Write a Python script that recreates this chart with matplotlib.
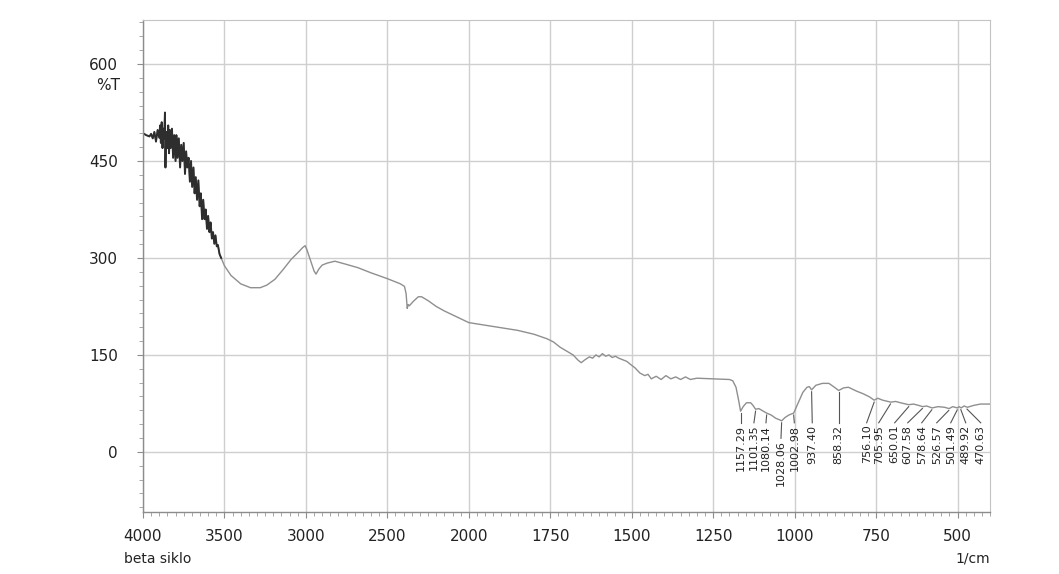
import numpy as np
import matplotlib
matplotlib.use('Agg')
import matplotlib.pyplot as plt
from matplotlib.ticker import FixedLocator, MultipleLocator, NullFormatter
import matplotlib.transforms as mtransforms

# Spectrum (wavenumber 1/cm, %T)
wavenumber = [
    4000, 3980, 3960, 3950, 3940, 3930, 3920, 3910, 3900, 3895, 3890, 3885,
    3880, 3875, 3870, 3865, 3862, 3858, 3850, 3845, 3840, 3835, 3830, 3822,
    3815, 3808, 3800, 3795, 3788, 3780, 3772, 3765, 3758, 3750, 3742, 3735,
    3728, 3720, 3712, 3705, 3698, 3690, 3683, 3676, 3668, 3660, 3652, 3645,
    3637, 3630, 3622, 3615, 3607, 3600, 3592, 3585, 3577, 3570, 3562, 3555,
    3547, 3540, 3530, 3520, 3500, 3460, 3400, 3340, 3280, 3240, 3190, 3140,
    3090, 3050, 3020, 3005, 2994, 2970, 2950, 2938, 2920, 2900, 2870, 2822,
    2750, 2681, 2600, 2500, 2420, 2395, 2385, 2378, 2372, 2365, 2340, 2310,
    2290, 2250, 2200, 2150, 2100, 2067, 2018, 2000, 1950, 1900, 1850, 1800,
    1760, 1740, 1720, 1700, 1680, 1665, 1655, 1645, 1630, 1620, 1610, 1600,
    1590, 1580, 1570, 1560, 1550, 1540, 1530, 1515, 1503, 1490, 1475, 1460,
    1450, 1440, 1425, 1410, 1395, 1380, 1365, 1350, 1335, 1320, 1300, 1250,
    1200, 1190, 1180, 1172, 1166, 1158, 1148, 1135, 1128, 1120, 1110, 1100,
    1086, 1072, 1058, 1048, 1040, 1030, 1018, 1003, 990, 975, 962, 955,
    948, 935, 915, 895, 878, 865, 850, 835, 810, 790, 770, 756,
    745, 730, 705, 690, 675, 650, 635, 620, 607, 595, 578, 560,
    540, 526, 515, 501, 495, 489, 480, 470, 450, 430, 400,
]
transmittance = [
    493, 490, 488, 492, 485, 495, 480, 498, 486, 505, 478, 510,
    470, 500, 485, 525, 440, 495, 470, 505, 462, 498, 470, 500,
    455, 490, 450, 490, 455, 485, 440, 475, 450, 478, 430, 465,
    440, 455, 418, 450, 410, 440, 400, 425, 390, 420, 380, 400,
    360, 390, 360, 375, 345, 365, 340, 355, 330, 340, 322, 335,
    318, 320, 306, 300, 288, 273, 260, 254, 254, 258, 267, 282,
    298, 308, 316, 319, 313, 295, 280, 275, 283, 289, 292, 295,
    290, 285, 277, 268, 260, 256, 245, 222, 228, 226, 233, 240,
    240, 234, 225, 218, 212, 208, 202, 200, 196, 192, 188, 182,
    175, 170, 162, 156, 150, 142, 138, 142, 147, 145, 150, 147,
    152, 148, 150, 146, 148, 145, 143, 140, 135, 130, 122, 118,
    120, 113, 117, 112, 118, 113, 116, 112, 116, 112, 114, 113,
    112, 110, 100, 80, 63, 70, 76, 76, 72, 66, 67, 64,
    60, 57, 52, 50, 48, 53, 57, 60, 75, 92, 100, 101,
    96, 103, 106, 106, 100, 95, 99, 100, 94, 90, 85, 80,
    83, 80, 77, 78, 76, 73, 74, 72, 70, 71, 68, 70,
    69, 67, 70, 68, 70, 68, 71, 69, 72, 74, 74,
]

# Peak labels printed under the trace
peaks = [1157.29, 1101.35, 1080.14, 1028.06, 1002.98, 937.40, 858.32,
         756.10, 705.95, 650.01, 607.58, 578.64, 526.57, 501.49, 489.92, 470.63]
# where each marker meets the trace and where its label sits (1/cm), label top (%T)
mark_x = [1166, 1120, 1086, 1040, 1003, 948, 865,
          756, 706, 650, 608, 579, 527, 501, 490, 471]
label_x = [1166, 1125, 1088, 1042, 1001, 946, 865,
           779, 742, 693, 653, 610, 564, 521, 475, 429]
label_top = [42, 42, 42, 18, 42, 42, 42,
             42, 42, 42, 42, 42, 42, 42, 42, 42]

x_major = [4000, 3500, 3000, 2500, 2000, 1750, 1500, 1250, 1000, 750, 500]
y_major = [0, 150, 300, 450, 600]


# FTIR chart: 500 1/cm per division above 2000, 250 per division below
def fwd(w):
    w = np.asarray(w, dtype=float)
    return np.where(w >= 2000, 1000 + (w - 2000) / 2.0, w - 1000)


def inv(u):
    u = np.asarray(u, dtype=float)
    return np.where(u >= 1000, 2000 + 2.0 * (u - 1000), u + 1000)


wn = np.array(wavenumber, dtype=float)
tr = np.array(transmittance, dtype=float)

fig = plt.figure(figsize=(10.59, 5.74), dpi=100)
ax = fig.add_axes([0.135, 0.108, 0.8, 0.857])
ax.set_xscale('function', functions=(fwd, inv))
ax.set_xlim(4000, 400)
ax.set_ylim(-93, 668)

ax.xaxis.set_major_locator(FixedLocator(x_major))
minor_x = np.concatenate([np.arange(4000, 2000, -50), np.arange(2000, 399, -25)])
ax.xaxis.set_minor_locator(FixedLocator(minor_x))
ax.xaxis.set_minor_formatter(NullFormatter())
ax.yaxis.set_major_locator(FixedLocator(y_major))
ax.yaxis.set_minor_locator(MultipleLocator(150 / 7))

ax.grid(True, which='major', color='#cfcfcf', lw=1.0)
ax.set_axisbelow(True)

for s in ['top', 'right']:
    ax.spines[s].set_color('#c4c4c4')
for s in ['left', 'bottom']:
    ax.spines[s].set_color('#8c8c8c')
    ax.spines[s].set_linewidth(1.0)

ax.tick_params(axis='both', which='major', length=4, color='#8c8c8c',
               labelsize=11, labelcolor='#222222')
ax.tick_params(axis='both', which='minor', length=3, color='#9a9a9a')
ax.tick_params(axis='x', which='major', pad=8)
ax.tick_params(axis='y', which='major', pad=14)
ax.set_xticklabels([str(v) for v in x_major])

# trace
ax.plot(wn, tr, color='#8f8f8f', lw=1.0)
noisy = wn >= 3520
ax.plot(wn[noisy], tr[noisy], color='#2e2e2e', lw=1.4)

# peak markers and labels
asc = np.argsort(wn)
for p, mx, lx, lt in zip(peaks, mark_x, label_x, label_top):
    yc = np.interp(mx, wn[asc], tr[asc])
    ax.plot([mx, lx], [yc - 3, lt + 3], color='#555555', lw=0.8)
    ax.text(lx, lt, f'{p:.2f}', rotation=90, ha='center', va='top',
            fontsize=8, color='#222222')

# axis captions
trans = mtransforms.blended_transform_factory(ax.transAxes, ax.transData)
ax.text(-0.041, 567, '%T', transform=trans, ha='center', va='center',
        fontsize=11, color='#222222')
ax.text(-0.022, -0.095, 'beta siklo', transform=ax.transAxes, ha='left',
        va='center', fontsize=10, color='#222222')
ax.text(1.0, -0.095, '1/cm', transform=ax.transAxes, ha='right',
        va='center', fontsize=10, color='#222222')

fig.savefig('out.png', dpi=100, facecolor='white')
